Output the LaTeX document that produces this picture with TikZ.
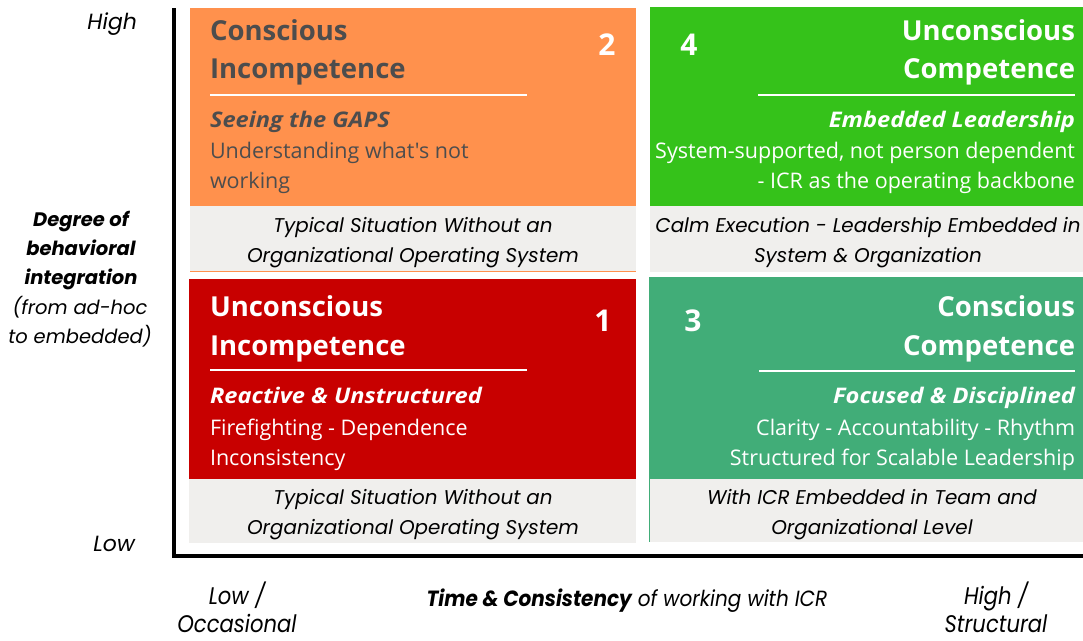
\documentclass[tikz,border=0pt]{standalone}
\usepackage{fontspec}
\setmainfont{Open Sans}[Ligatures=TeXOff]
\newfontfamily\pop{Poppins}
\definecolor{qorange}{HTML}{FF914D}
\definecolor{qgreen}{HTML}{35C21A}
\definecolor{qred}{HTML}{C80000}
\definecolor{qteal}{HTML}{41AD78}
\definecolor{qgray}{HTML}{F0EFED}
\definecolor{dk}{HTML}{4D4D4D}
\begin{document}
\begin{tikzpicture}[x=1pt,y=-1pt,
  every node/.style={inner sep=0pt,outer sep=0pt},
  ttl/.style={font=\fontsize{27.5}{27.5}\selectfont\bfseries},
  subt/.style={font=\fontsize{21.5}{21.5}\selectfont\bfseries\itshape,xscale=1.1},
  bodyt/.style={font=\fontsize{21.5}{21.5}\selectfont},
  numt/.style={font=\fontsize{30}{30}\selectfont\bfseries,text=white,anchor=base},
  capt/.style={font=\pop\fontsize{19.9}{19.9}\selectfont\itshape,text=black,anchor=base},
  labt/.style={font=\pop\fontsize{19.5}{19.5}\selectfont\itshape,text=black},
  hlabt/.style={font=\pop\fontsize{22}{22}\selectfont\itshape,text=black,anchor=base east},
  blabt/.style={font=\pop\fontsize{19.5}{19.5}\selectfont\bfseries\itshape,text=black,anchor=base},
  xlabt/.style={font=\pop\fontsize{24}{24}\selectfont\itshape,text=black,anchor=base,xscale=0.88},
  mlabt/.style={font=\pop\fontsize{22}{22}\selectfont\itshape,text=black,anchor=base,xscale=0.91},
  wrule/.style={white,line width=2pt}]
\useasboundingbox (0,0) rectangle (1083,640);
\fill[white] (0,0) rectangle (1083,640);
% cards
\fill[qorange] (190,8) rectangle (636,206);
\fill[qgray] (190,206) rectangle (636,271);
\draw[qorange,line width=1pt] (190,271) -- (636,271);
\fill[qgreen] (650,7) rectangle (1083,206);
\fill[qgray] (650,206) rectangle (1083,272);
\fill[qred] (189,279) rectangle (636,479);
\fill[qgray] (189,479) rectangle (636,543);
\fill[qteal] (649,277) rectangle (1083,479);
\fill[qgray] (649,479) rectangle (1083,542);
\draw[qteal,line width=1pt] (649,479) -- (649,542);
% axes
\coordinate (ytop) at (174,8);
\coordinate (org) at (174,556);
\coordinate (xend) at (1083,556);
\draw[black,line width=4pt] (ytop) -- (org) -- (xend);
% Q2
\node[ttl,text=dk,anchor=base west] (q2t1) at (210,40) {Conscious};
\node[ttl,text=dk,anchor=base west] (q2t2) at (210,78) {Incompetence};
\coordinate (q2l1) at (210,95); \coordinate (q2l2) at (527,95);
\draw[wrule] (q2l1) -- (q2l2);
\node[subt,text=dk,anchor=base west] (q2s) at (210,127) {Seeing the GAPS};
\node[bodyt,text=dk,anchor=base west] (q2b1) at (210,158) {Understanding what's not};
\node[bodyt,text=dk,anchor=base west] (q2b2) at (210,188) {working};
\node[numt] (n2) at (607,55) {2};
\node[capt] (q2c1) at (413,232) {Typical Situation Without an};
\node[capt] (q2c2) at (413,262) {Organizational Operating System};
% Q4
\node[ttl,text=white,anchor=base east] (q4t1) at (1075,40) {Unconscious};
\node[ttl,text=white,anchor=base east] (q4t2) at (1075,78) {Competence};
\coordinate (q4l1) at (758,95); \coordinate (q4l2) at (1075,95);
\draw[wrule] (q4l1) -- (q4l2);
\node[subt,text=white,anchor=base east] (q4s) at (1075,127) {Embedded Leadership};
\node[bodyt,text=white,anchor=base east] (q4b1) at (1075,158) {System-supported, not person dependent};
\node[bodyt,text=white,anchor=base east] (q4b2) at (1075,188) {- ICR as the operating backbone};
\node[numt] (n4) at (689,55) {4};
\node[capt] (q4c1) at (868,232) {Calm Execution - Leadership Embedded in};
\node[capt] (q4c2) at (868,262) {System \& Organization};
% Q1
\node[ttl,text=white,anchor=base west] (q1t1) at (210,316) {Unconscious};
\node[ttl,text=white,anchor=base west] (q1t2) at (210,355) {Incompetence};
\coordinate (q1l1) at (210,370); \coordinate (q1l2) at (527,370);
\draw[wrule] (q1l1) -- (q1l2);
\node[subt,text=white,anchor=base west] (q1s) at (210,403) {Reactive \& Unstructured};
\node[bodyt,text=white,anchor=base west] (q1b1) at (210,435) {Firefighting - Dependence};
\node[bodyt,text=white,anchor=base west] (q1b2) at (210,465) {Inconsistency};
\node[numt] (n1) at (603,331) {1};
\node[capt] (q1c1) at (413,504) {Typical Situation Without an};
\node[capt] (q1c2) at (413,534) {Organizational Operating System};
% Q3
\node[ttl,text=white,anchor=base east] (q3t1) at (1075,316) {Conscious};
\node[ttl,text=white,anchor=base east] (q3t2) at (1075,355) {Competence};
\coordinate (q3l1) at (759,371); \coordinate (q3l2) at (1075,371);
\draw[wrule] (q3l1) -- (q3l2);
\node[subt,text=white,anchor=base east] (q3s) at (1075,403) {Focused \& Disciplined};
\node[bodyt,text=white,anchor=base east] (q3b1) at (1075,435) {Clarity - Accountability - Rhythm};
\node[bodyt,text=white,anchor=base east] (q3b2) at (1075,465) {Structured for Scalable Leadership};
\node[numt] (n3) at (693,331) {3};
\node[capt] (q3c1) at (872,504) {With ICR Embedded in Team and};
\node[capt] (q3c2) at (872,534) {Organizational Level};
% y-axis labels
\node[hlabt] (yhigh) at (137,29) {High};
\node[hlabt] (ylow) at (135,551) {Low};
\node[blabt] (yl1) at (81,226) {Degree of};
\node[blabt] (yl2) at (81,255) {behavioral};
\node[blabt] (yl3) at (81,284) {integration};
\node[labt,anchor=base] (yl4) at (80,314) {(from ad-hoc};
\node[labt,anchor=base] (yl5) at (80,343) {to embedded)};
% x-axis labels
\node[xlabt] (xlow1) at (237,604) {Low /};
\node[xlabt] (xlow2) at (237,632) {Occasional};
\node[mlabt] (xmid) at (627,606) {\bfseries Time \& Consistency\mdseries{} of working with ICR};
\node[xlabt] (xhigh1) at (996,604) {High /};
\node[xlabt] (xhigh2) at (996,632) {Structural};
\end{tikzpicture}
\end{document}
